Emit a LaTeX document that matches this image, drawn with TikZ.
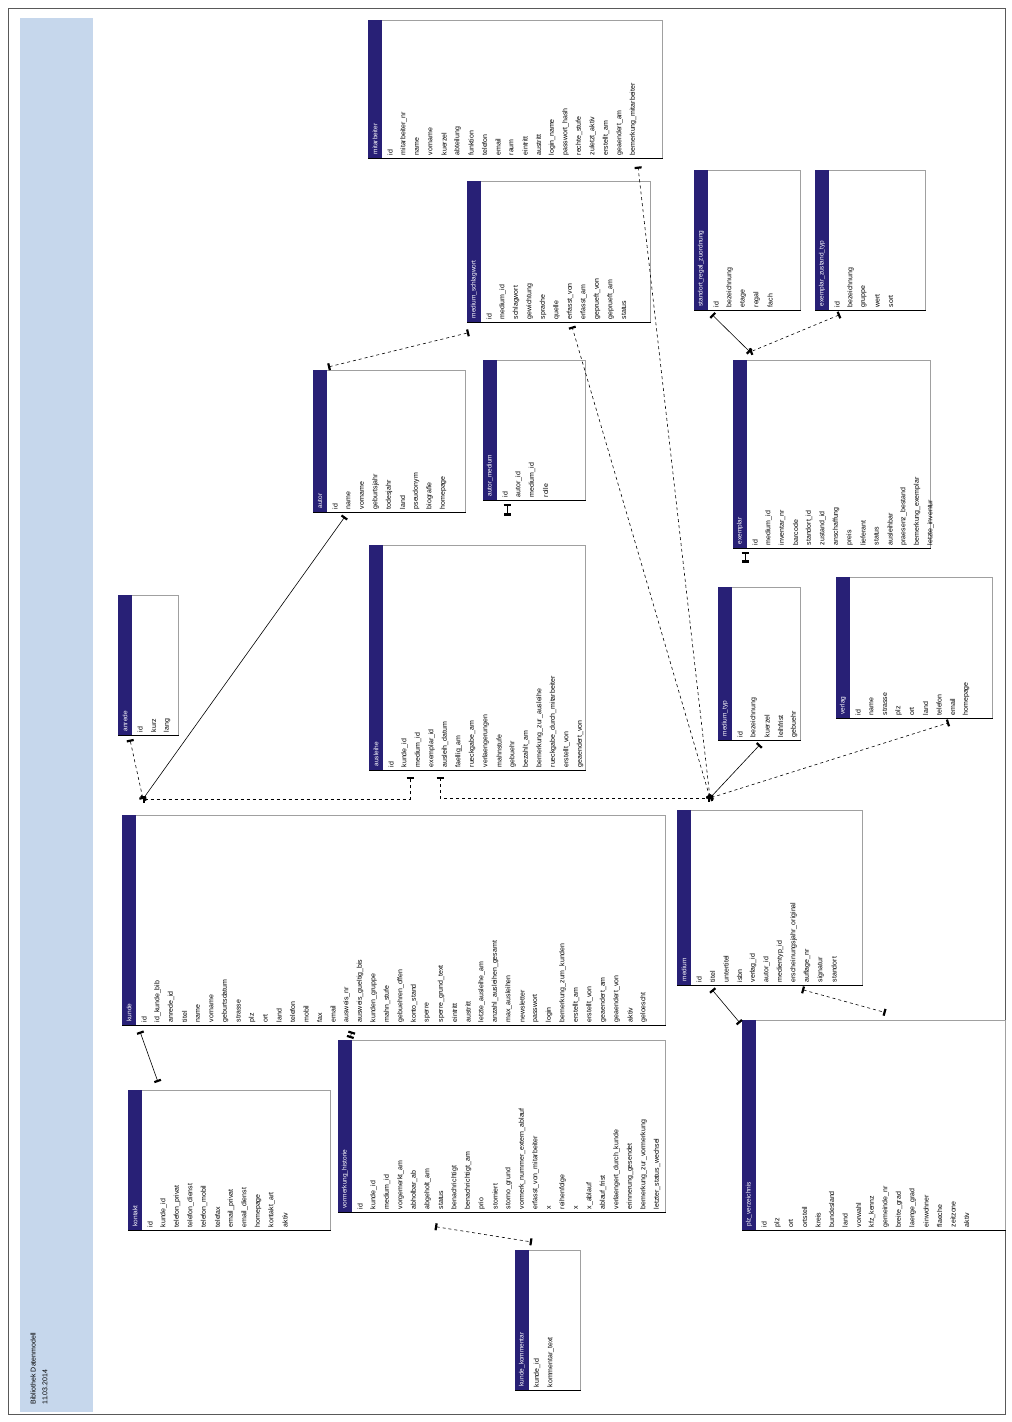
\documentclass[tikz,border=0pt]{standalone}
\usepackage{fontspec}
\setmainfont{Liberation Sans}
\usetikzlibrary{calc,arrows.meta}

\definecolor{tabnavy}{RGB}{40,32,118}
\definecolor{bandblue}{RGB}{198,215,236}
\definecolor{framegray}{RGB}{160,160,160}

\tikzset{
 tabframe/.style={rectangle,draw=framegray,line width=0.6pt,inner sep=0pt,anchor=north west},
 tabfield/.style={rotate=90,anchor=west,inner sep=0.5pt,font=\fontsize{7}{8}\selectfont},
 tabtitle/.style={rotate=90,anchor=west,inner sep=0.5pt,text=white,font=\fontsize{6.5}{7}\selectfont},
 mk/.tip={Bar[width=7pt,line width=2.2pt]},
 rel/.style={line width=0.6pt,mk-mk},
}

% table: name, x0, y0, x1, y1, title, fields
\newcommand{\dbtab}[7]{%
 \node[tabframe,minimum width={(#4-#2)*1pt},minimum height={(#5-#3)*1pt}] (#1) at (#2,#3) {};
 \fill[tabnavy] (#2,#3) rectangle ({#2+14},#5);
 \draw[line width=0.9pt] (#1.south west) -- (#1.south east);
 \node[tabtitle] (#1-t) at ({#2+7},{#5-3}) {#6};
 \foreach \f [count=\i] in {#7}
 \node[tabfield] (#1-\i) at ({#2+22+(\i-1)*13.5},{#5-2}) {\f};
}

\begin{document}
\begin{tikzpicture}[x=1pt,y=-1pt]
 \useasboundingbox (0,0) rectangle (1012,1422);
 \draw[gray!70!black,line width=0.8pt] (8,8) rectangle (1005,1414);
 \fill[bandblue] (20,18) rectangle (93,1412);
 \node[tabfield,font=\fontsize{7}{8}\selectfont] (title) at (33,1405) {Bibliothek Datenmodell};
 \node[tabfield,font=\fontsize{7}{8}\selectfont] (date) at (45,1405) {11.03.2014};

 \dbtab{mitarb}{368}{20}{662}{158}{mitarbeiter}{id, mitarbeiter\_nr, name, vorname, kuerzel, abteilung, funktion, telefon, email, raum, eintritt, austritt, login\_name, passwort\_hash, rechte\_stufe, zuletzt\_aktiv, erstellt\_am, geaendert\_am, bemerkung\_mitarbeiter}
 \dbtab{schlag}{467}{181}{650}{322}{medium\_schlagwort}{id, medium\_id, schlagwort, gewichtung, sprache, quelle, erfasst\_von, erfasst\_am, geprueft\_von, geprueft\_am, status}
 \dbtab{regal}{694}{170}{800}{310}{standort\_regal\_zuordnung}{id, bezeichnung, etage, regal, fach}
 \dbtab{zustand}{815}{170}{925}{310}{exemplar\_zustand\_typ}{id, bezeichnung, gruppe, wert, sort}
 \dbtab{autor}{313}{370}{465}{512}{autor}{id, name, vorname, geburtsjahr, todesjahr, land, pseudonym, biografie, homepage}
 \dbtab{autmed}{483}{360}{585}{500}{autor\_medium}{id, autor\_id, medium\_id, rolle}
 \dbtab{exemplar}{733}{360}{930}{548}{exemplar}{id, medium\_id, inventar\_nr, barcode, standort\_id, zustand\_id, anschaffung, preis, lieferant, status, ausleihbar, praesenz\_bestand, bemerkung\_exemplar, letzte\_inventur}
 \dbtab{anrede}{118}{595}{178}{735}{anrede}{id, kurz, lang}
 \dbtab{ausleihe}{369}{545}{585}{770}{ausleihe}{id, kunde\_id, medium\_id, exemplar\_id, ausleih\_datum, faellig\_am, rueckgabe\_am, verlaengerungen, mahnstufe, gebuehr, bezahlt\_am, bemerkung\_zur\_ausleihe, rueckgabe\_durch\_mitarbeiter, erstellt\_von, geaendert\_von}
 \dbtab{medtyp}{718}{587}{800}{740}{medium\_typ}{id, bezeichnung, kuerzel, leihfrist, gebuehr}
 \dbtab{verlag}{836}{577}{992}{718}{verlag}{id, name, strasse, plz, ort, land, telefon, email, homepage}
 \dbtab{kunde}{122}{815}{665}{1025}{kunde}{id, id\_kunde\_bib, anrede\_id, titel, name, vorname, geburtsdatum, strasse, plz, ort, land, telefon, mobil, fax, email, ausweis\_nr, ausweis\_gueltig\_bis, kunden\_gruppe, mahn\_stufe, gebuehren\_offen, konto\_stand, sperre, sperre\_grund\_text, eintritt, austritt, letzte\_ausleihe\_am, anzahl\_ausleihen\_gesamt, max\_ausleihen, newsletter, passwort, login, bemerkung\_zum\_kunden, erstellt\_am, erstellt\_von, geaendert\_am, geaendert\_von, aktiv, geloescht}
 \dbtab{medium}{677}{810}{862}{985}{medium}{id, titel, untertitel, isbn, verlag\_id, autor\_id, medientyp\_id, erscheinungsjahr\_original, auflage\_nr, signatur, standort}
 \dbtab{kontakt}{128}{1090}{330}{1230}{kontakt}{id, kunde\_id, telefon\_privat, telefon\_dienst, telefon\_mobil, telefax, email\_privat, email\_dienst, homepage, kontakt\_art, aktiv}
 \dbtab{vormerk}{338}{1040}{665}{1212}{vormerkung\_historie}{id, kunde\_id, medium\_id, vorgemerkt\_am, abholbar\_ab, abgeholt\_am, status, benachrichtigt, benachrichtigt\_am, prio, storniert, storno\_grund, vormerk\_nummer\_extern\_ablauf, erfasst\_von\_mitarbeiter, x, reihenfolge, x, x\_ablauf, ablauf\_frist, verlaengert\_durch\_kunde, erinnerung\_gesendet, bemerkung\_zur\_vormerkung, letzter\_status\_wechsel}
 \dbtab{kdkomm}{515}{1250}{580}{1390}{kunde\_kommentar}{kunde\_id, kommentar\_text}
 \dbtab{plz}{742}{1020}{1005}{1230}{plz\_verzeichnis}{id, plz, ort, ortsteil, kreis, bundesland, land, vorwahl, kfz\_kennz, gemeinde\_nr, breite\_grad, laenge\_grad, einwohner, flaeche, zeitzone, aktiv}

 \coordinate (k-top) at ($(kunde.north west)+(21,-16)$);
 \coordinate (k-bot) at ($(kunde.south west)+(18,6)$);
 \coordinate (k-bot2) at ($(kunde.south west)+(230,6)$);
 \coordinate (an-bot) at ($(anrede.south west)+(12,4)$);
 \coordinate (au-bot) at ($(autor.south west)+(32,4)$);
 \coordinate (au-top) at ($(autor.north west)+(15,-3)$);
 \coordinate (as-bot1) at ($(ausleihe.south west)+(41,6)$);
 \coordinate (as-bot2) at ($(ausleihe.south west)+(71,6)$);
 \coordinate (am-bot) at ($(autmed.south west)+(24,3)$);
 \coordinate (am-stub) at ($(autmed.south west)+(24,15)$);
 \coordinate (sz-bot) at ($(schlag.south west)+(2,10)$);
 \coordinate (sz-bot2) at ($(schlag.south west)+(105,4)$);
 \coordinate (st-bot) at ($(mitarb.south west)+(270,8)$);
 \coordinate (m-top) at ($(medium.north west)+(33,-12)$);
 \coordinate (m-bot) at ($(medium.south west)+(35,4)$);
 \coordinate (m-bot2) at ($(medium.south west)+(125,4)$);
 \coordinate (m-ref) at ($(medium.south east)+(23,27)$);
 \coordinate (mt-bot) at ($(medtyp.south west)+(42,4)$);
 \coordinate (vl-bot) at ($(verlag.south west)+(113,4)$);
 \coordinate (sr-bot) at ($(regal.south west)+(18,4)$);
 \coordinate (zt-bot) at ($(zustand.south west)+(25,4)$);
 \coordinate (ex-top) at ($(exemplar.north west)+(17,-8)$);
 \coordinate (ex-bot) at ($(exemplar.south west)+(12,3)$);
 \coordinate (ex-stub) at ($(exemplar.south west)+(12,14)$);
 \coordinate (pz-top) at ($(plz.north west)+(-2,3)$);
 \coordinate (kt-top) at ($(kontakt.north west)+(30,-8)$);
 \coordinate (vm-top) at ($(vormerk.north west)+(12,-2)$);
 \coordinate (vm-bot) at ($(vormerk.south west)+(97,14)$);
 \coordinate (kk-top) at ($(kdkomm.north west)+(17,-8)$);

\path[draw,dashed] (k-top) edge [rel] (an-bot);
\path[draw] (k-top) edge [rel] (au-bot);
\path[draw,dashed] (k-top) edge [rel,to path={-| (\tikztotarget)}] (as-bot1);
\path[draw,dashed] (as-bot2) edge [rel,to path={|- (\tikztotarget)}] (m-top);
\path[draw,dashed] (au-top) edge [rel] (sz-bot);
\path[draw] (am-bot) edge [rel] (am-stub);
\path[draw,dashed] (m-top) edge [rel] (sz-bot2);
\path[draw,dashed] (m-top) edge [rel] (st-bot);
\path[draw] (m-top) edge [rel] (mt-bot);
\path[draw,dashed] (m-top) edge [rel] (vl-bot);
\path[draw] (sr-bot) edge [rel] (ex-top);
\path[draw,dashed] (zt-bot) edge [rel] (ex-top);
\path[draw] (ex-bot) edge [rel] (ex-stub);
\path[draw] (m-bot) edge [rel] (pz-top);
\path[draw,dashed] (m-bot2) edge [rel] (m-ref);
\path[draw] (k-bot) edge [rel] (kt-top);
\path[draw] (k-bot2) edge [rel] (vm-top);
\path[draw,dashed] (vm-bot) edge [rel] (kk-top);
\end{tikzpicture}
\end{document}
